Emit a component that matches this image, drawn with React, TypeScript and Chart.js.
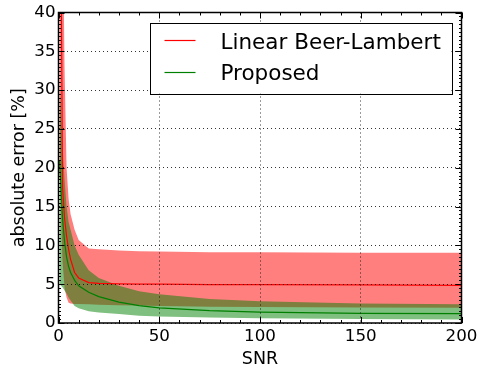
import React, { useEffect, useRef } from 'react';
import { Chart, registerables } from 'chart.js';

Chart.register(...registerables);

const FONT = 'DejaVu Sans';

// SNR sample positions
const snr = [0.5, 2, 3, 4, 5, 6, 8, 10, 15, 20, 30, 40, 50, 75, 100, 150, 200];

// Linear Beer-Lambert: mean and band
const redMean = [80, 17.5, 13.5, 11.2, 9.5, 8.2, 6.5, 5.8, 5.2, 5.1, 5.05, 5.0, 5.0, 4.95, 4.95, 4.9, 4.85];
const redLower = [20, 8, 4.5, 3.3, 2.6, 2.5, 2.45, 2.45, 2.4, 2.35, 2.3, 2.25, 2.2, 2.1, 2.05, 2.0, 1.97];
const redUpper = [120, 55, 33, 20, 16, 14, 12, 10.7, 9.6, 9.5, 9.35, 9.25, 9.2, 9.12, 9.1, 9.05, 9.05];

// Proposed: mean and band
const greenMean = [21, 13.5, 10.5, 8.5, 7.3, 6.5, 5.5, 4.8, 3.95, 3.4, 2.7, 2.25, 1.95, 1.6, 1.4, 1.25, 1.2];
const greenLower = [5, 4.6, 4.2, 3.8, 3.3, 2.9, 2.2, 1.9, 1.5, 1.35, 1.15, 0.95, 0.85, 0.7, 0.6, 0.5, 0.45];
const greenUpper = [31.5, 23, 18.5, 15, 13, 12, 10, 8.8, 6.8, 5.8, 4.8, 4.1, 3.7, 3.1, 2.8, 2.5, 2.4];

const seriesNames = ['Linear Beer-Lambert', 'Proposed'];
const seriesColors = ['red', 'green'];

const xTicks = { min: 0, max: 200, major: 50, minor: 10 };
const yTicks = { min: 0, max: 40, major: 5, minor: 0.5 };

const pts = (ys: number[]) => snr.map((x, i) => ({ x, y: ys[i] }));

export default function App() {
  const ref = useRef<HTMLCanvasElement>(null);

  useEffect(() => {
    if (!ref.current) return;

    const framePlugin = {
      id: 'framePlugin',
      afterDraw(chart: any) {
        const { ctx, chartArea } = chart;
        const { left, right, top, bottom } = chartArea;
        const xs = chart.scales.x;
        const ys = chart.scales.y;
        ctx.save();
        ctx.strokeStyle = '#000';
        ctx.lineWidth = 1;
        // x ticks (inward, bottom and top)
        for (let v = xTicks.min; v <= xTicks.max + 1e-9; v += xTicks.minor) {
          const px = Math.round(xs.getPixelForValue(v)) + 0.5;
          const len = Math.abs(v % xTicks.major) < 1e-9 ? 6 : 3;
          ctx.beginPath();
          ctx.moveTo(px, bottom);
          ctx.lineTo(px, bottom - len);
          ctx.moveTo(px, top);
          ctx.lineTo(px, top + len);
          ctx.stroke();
        }
        // y ticks (inward, left and right)
        for (let v = yTicks.min; v <= yTicks.max + 1e-9; v += yTicks.minor) {
          const py = Math.round(ys.getPixelForValue(v)) + 0.5;
          const len = Math.abs(v % yTicks.major) < 1e-9 ? 6 : 2.5;
          ctx.beginPath();
          ctx.moveTo(left, py);
          ctx.lineTo(left + len, py);
          ctx.moveTo(right, py);
          ctx.lineTo(right - len, py);
          ctx.stroke();
        }
        // frame
        ctx.lineWidth = 1.5;
        ctx.strokeRect(left, top, right - left, bottom - top);

        // legend
        const w = 302;
        const h = 71;
        const bx = right - 10 - w;
        const by = top + 10;
        ctx.fillStyle = '#fff';
        ctx.fillRect(bx, by, w, h);
        ctx.lineWidth = 1;
        ctx.strokeStyle = '#000';
        ctx.strokeRect(Math.round(bx) + 0.5, Math.round(by) + 0.5, w, h);
        const rows = [by + 18, by + 50];
        const bases = [by + 26, by + 57.7];
        ctx.font = `21.5px "${FONT}"`;
        ctx.textBaseline = 'alphabetic';
        ctx.textAlign = 'left';
        seriesNames.forEach((name, i) => {
          ctx.strokeStyle = seriesColors[i];
          ctx.lineWidth = 1.2;
          ctx.beginPath();
          ctx.moveTo(bx + 15, rows[i]);
          ctx.lineTo(bx + 46, rows[i]);
          ctx.stroke();
          ctx.fillStyle = '#000';
          ctx.fillText(name, bx + 71, bases[i]);
        });
        ctx.restore();
      },
    };

    const hidden = {
      borderColor: 'rgba(0,0,0,0)',
      borderWidth: 0,
      pointRadius: 0,
      fill: false,
    };

    const tickFont = { family: FONT, size: 16.7 };
    const titleFont = { family: FONT, size: 17.5 };

    const chart = new Chart(ref.current, {
      type: 'line',
      data: {
        datasets: [
          { label: seriesNames[0], data: pts(redMean), borderColor: 'red', borderWidth: 1.2, pointRadius: 0, fill: false, order: 1 },
          { label: seriesNames[1], data: pts(greenMean), borderColor: 'green', borderWidth: 1.2, pointRadius: 0, fill: false, order: 0 },
          { label: 'redLower', data: pts(redLower), ...hidden, order: 6 },
          { label: 'redUpper', data: pts(redUpper), ...hidden, fill: 2, backgroundColor: 'rgba(255,0,0,0.5)', order: 4 },
          { label: 'greenLower', data: pts(greenLower), ...hidden, order: 5 },
          { label: 'greenUpper', data: pts(greenUpper), ...hidden, fill: 4, backgroundColor: 'rgba(0,128,0,0.5)', order: 3 },
        ] as any,
      },
      options: {
        animation: false,
        responsive: false,
        events: [],
        layout: { padding: { left: 0, top: 12.5, right: 15.5, bottom: 0 } },
        plugins: {
          legend: { display: false },
          tooltip: { enabled: false },
        },
        scales: {
          x: {
            type: 'linear',
            min: xTicks.min,
            max: xTicks.max,
            ticks: { stepSize: xTicks.major, color: '#000', font: tickFont, padding: 4, autoSkip: false, maxRotation: 0 },
            grid: { color: '#000', lineWidth: 0.8, drawTicks: false, z: 1 },
            border: { display: false, dash: [1, 3] },
            title: { display: true, text: 'SNR', color: '#000', font: titleFont, padding: { top: 0, bottom: -1 } },
            afterFit: (s: any) => {
              s.height = 46;
              s.paddingLeft = 0;
              s.paddingRight = 0;
            },
          },
          y: {
            type: 'linear',
            min: yTicks.min,
            max: yTicks.max,
            ticks: { stepSize: yTicks.major, color: '#000', font: tickFont, padding: 3 },
            grid: { color: '#000', lineWidth: 0.8, drawTicks: false, z: 1 },
            border: { display: false, dash: [1, 3] },
            title: { display: true, text: 'absolute error [%]', color: '#000', font: titleFont, padding: { top: 8.5, bottom: 0 } },
            afterFit: (s: any) => {
              s.width = 58.5;
              s.paddingTop = 0;
              s.paddingBottom = 0;
            },
          },
        },
      } as any,
      plugins: [framePlugin],
    });

    return () => chart.destroy();
  }, []);

  return (
    <div style={{ position: 'absolute', left: 0, top: 0, width: 477, height: 369, background: '#fff' }}>
      <canvas ref={ref} width={477} height={369} style={{ display: 'block' }} />
    </div>
  );
}
